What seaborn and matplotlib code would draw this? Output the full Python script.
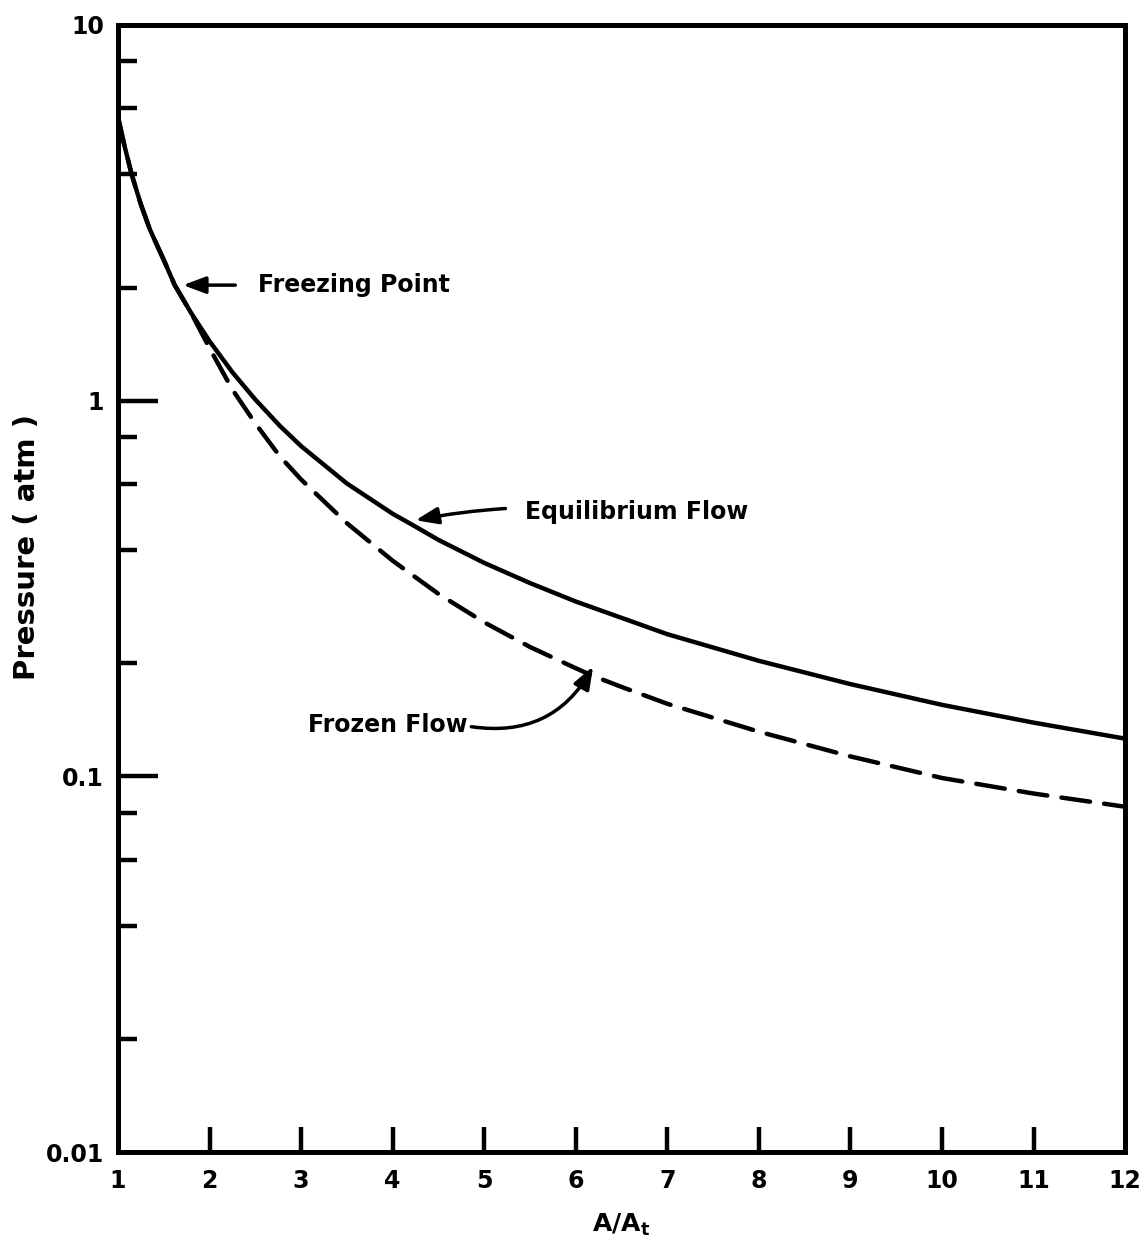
import numpy as np
import pandas as pd
import matplotlib
matplotlib.use("Agg")
import matplotlib.pyplot as plt
import seaborn as sns

# Area ratio A/At and static pressure (atm) along the nozzle
area_eq = [1.0, 1.07, 1.15, 1.25, 1.35, 1.5, 1.62, 1.8, 2.0, 2.25, 2.5, 2.77, 3.0, 3.5,
           4.0, 4.25, 4.5, 5.0, 5.5, 6.0, 7.0, 8.0, 9.0, 10.0, 11.0, 12.0]
p_eq = [5.7, 4.78, 4.0, 3.33, 2.85, 2.37, 2.03, 1.71, 1.44, 1.19, 1.007, 0.856, 0.757, 0.602,
        0.500, 0.462, 0.426, 0.370, 0.327, 0.292, 0.239, 0.203, 0.176, 0.155, 0.139, 0.126]

area_fr = [1.0, 1.07, 1.15, 1.25, 1.35, 1.5, 1.62, 1.8, 2.0, 2.25, 2.5, 2.77, 3.0, 3.5,
           4.0, 4.5, 5.0, 5.5, 6.0, 6.19, 6.5, 7.0, 8.0, 9.0, 10.0, 11.0, 12.0]
p_fr = [5.7, 4.78, 4.0, 3.33, 2.85, 2.37, 2.03, 1.71, 1.38, 1.07, 0.87, 0.71, 0.617, 0.472,
        0.375, 0.306, 0.257, 0.221, 0.194, 0.185, 0.173, 0.156, 0.1315, 0.113, 0.099, 0.090, 0.083]

x_ticks = list(range(1, 13))
y_major = [0.01, 0.1, 1, 10]
y_major_labels = ["0.01", "0.1", "1", "10"]
y_minor = [m * d for d in (0.01, 0.1, 1) for m in (2, 4, 6, 8)]

sns.set_style("ticks")
plt.rcParams["font.family"] = ["DejaVu Sans"]
plt.rcParams["mathtext.fontset"] = "dejavusans"
plt.rcParams["text.color"] = "black"
plt.rcParams["axes.labelcolor"] = "black"
plt.rcParams["xtick.color"] = "black"
plt.rcParams["ytick.color"] = "black"

fig = plt.figure(figsize=(11.43, 12.48), dpi=100)
ax = fig.add_axes([0.1032, 0.0769, 0.8811, 0.9031])

eq_df = pd.DataFrame({"area": area_eq, "pressure": p_eq})
fr_df = pd.DataFrame({"area": area_fr, "pressure": p_fr})

sns.lineplot(data=eq_df, x="area", y="pressure", ax=ax, color="black",
             linewidth=3.2)
sns.lineplot(data=fr_df, x="area", y="pressure", ax=ax, color="black",
             linewidth=3.2)
ax.lines[-1].set_dashes((6.5, 3.2))
ax.lines[-1].set_dash_capstyle("round")
for ln in ax.lines:
    ln.set_solid_joinstyle("round")
    ln.set_dash_joinstyle("round")

ax.set_yscale("log")
ax.set_xlim(1, 12)
ax.set_ylim(0.01, 10)

ax.set_xticks(x_ticks)
ax.set_xticklabels([str(v) for v in x_ticks])
ax.set_yticks(y_major)
ax.set_yticklabels(y_major_labels)
ax.set_yticks(y_minor, minor=True)
ax.set_yticklabels([], minor=True)
ax.set_xticks([], minor=True)

for s in ax.spines.values():
    s.set_visible(True)
    s.set_linewidth(3.6)
    s.set_color("black")

ax.tick_params(axis="y", which="major", direction="in", length=29, width=3.2,
               labelsize=17, pad=10, colors="black")
ax.tick_params(axis="y", which="minor", direction="in", length=14, width=3.2,
               colors="black")
ax.tick_params(axis="x", which="major", direction="in", length=18, width=3.2,
               labelsize=17, pad=12, colors="black")
for lbl in ax.get_xticklabels() + ax.get_yticklabels():
    lbl.set_fontweight("bold")

# the end ticks sit on the frame itself
yt = ax.yaxis.get_major_ticks()
yt[0].tick1line.set_visible(False)
yt[-1].tick1line.set_visible(False)
xt = ax.xaxis.get_major_ticks()
xt[0].tick1line.set_visible(False)
xt[-1].tick1line.set_visible(False)

ax.set_xlabel(r"$\mathbf{A/A_t}$", fontsize=18, labelpad=14)
ax.set_ylabel("Pressure ( atm )", fontsize=21, fontweight="bold")
ax.yaxis.set_label_coords(-0.076, 0.537)

txt = dict(fontsize=17, fontweight="bold", va="center", ha="left", color="black")
head = "-|>,head_length=0.8,head_width=0.3"
ax.annotate("Freezing Point", xy=(area_eq[6], p_eq[6]), xytext=(2.53, p_eq[6]),
            arrowprops=dict(arrowstyle=head, color="black", lw=2.5,
                            shrinkA=14, shrinkB=6),
            **txt)
ax.annotate("Equilibrium Flow", xy=(area_eq[15], p_eq[15] * 1.04), xytext=(5.45, 0.504),
            arrowprops=dict(arrowstyle=head, color="black", lw=2.5,
                            shrinkA=12, shrinkB=0,
                            connectionstyle="arc3,rad=0.08"),
            **txt)
ax.annotate("Frozen Flow", xy=(area_fr[19], p_fr[19] * 1.06), xytext=(3.08, 0.137),
            arrowprops=dict(arrowstyle=head, color="black", lw=2.5,
                            shrinkA=0, shrinkB=0,
                            connectionstyle="arc3,rad=0.35",
                            relpos=(1.0, 0.45)),
            **txt)

fig.savefig("out.png", dpi=100, facecolor="white")
